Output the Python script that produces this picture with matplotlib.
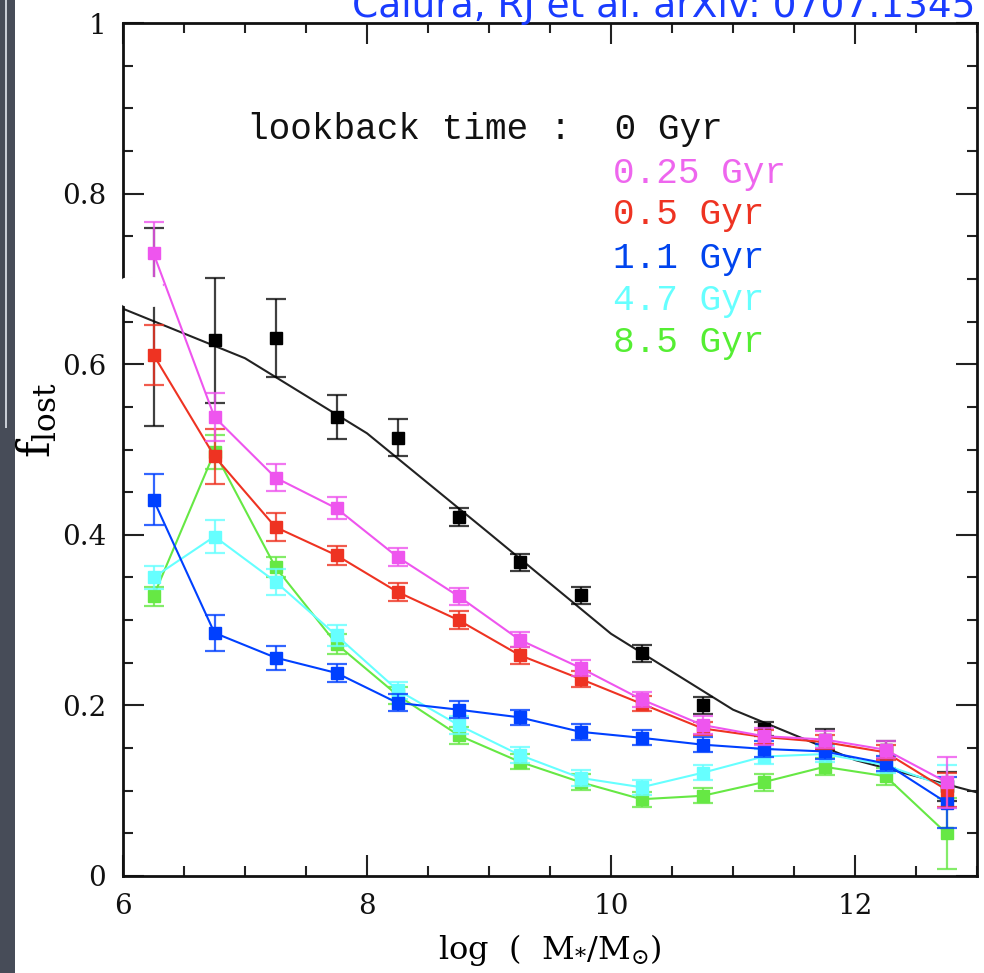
import matplotlib
matplotlib.use('Agg')
import matplotlib.pyplot as plt
from matplotlib.colors import to_rgba
from matplotlib.patches import Rectangle, FancyBboxPatch
from matplotlib.ticker import MultipleLocator, FixedLocator, FixedFormatter

plt.rcParams['mathtext.fontset'] = 'dejavuserif'

# stellar mass bins, log(M*/Msun)
log_mass = [6.25, 6.75, 7.25, 7.75, 8.25, 8.75, 9.25, 9.75,
            10.25, 10.75, 11.25, 11.75, 12.25, 12.75]

# model curve at lookback time 0
model_mass = [6, 7, 8, 9, 10, 11, 12, 13]
model_flost = [0.665, 0.607, 0.519, 0.402, 0.284, 0.195, 0.136, 0.098]

# lookback time 0 Gyr (points only)
f_0 = [0.69, 0.628, 0.631, 0.538, 0.514, 0.421, 0.368, 0.329,
       0.261, 0.200, 0.172, 0.160, 0.148, 0.105]
err_0_lo = [0.162, 0.073, 0.046, 0.026, 0.022, 0.011, 0.010, 0.010,
            0.010, 0.010, 0.008, 0.012, 0.010, 0.017]
err_0_hi = [0.070, 0.073, 0.046, 0.026, 0.022, 0.011, 0.010, 0.010,
            0.010, 0.010, 0.008, 0.012, 0.010, 0.017]

f_025 = [0.730, 0.538, 0.467, 0.431, 0.374, 0.328, 0.277, 0.244,
         0.207, 0.177, 0.164, 0.160, 0.148, 0.110]
err_025 = [0.037, 0.028, 0.016, 0.013, 0.011, 0.010, 0.009, 0.009,
           0.009, 0.010, 0.010, 0.010, 0.010, 0.030]

f_05 = [0.611, 0.492, 0.409, 0.376, 0.333, 0.300, 0.259, 0.231,
        0.202, 0.173, 0.163, 0.157, 0.145, 0.101]
err_05 = [0.035, 0.032, 0.016, 0.011, 0.011, 0.011, 0.010, 0.009,
          0.009, 0.008, 0.008, 0.008, 0.009, 0.020]

f_11 = [0.441, 0.285, 0.256, 0.238, 0.203, 0.195, 0.186, 0.169,
        0.162, 0.154, 0.149, 0.146, 0.132, 0.086]
err_11 = [0.030, 0.021, 0.014, 0.011, 0.010, 0.010, 0.009, 0.009,
          0.009, 0.009, 0.009, 0.009, 0.009, 0.030]

f_47 = [0.350, 0.398, 0.345, 0.282, 0.218, 0.177, 0.142, 0.115,
        0.104, 0.121, 0.140, 0.143, 0.130, 0.105]
err_47 = [0.013, 0.019, 0.015, 0.012, 0.010, 0.010, 0.009, 0.009,
          0.009, 0.009, 0.009, 0.009, 0.009, 0.025]

f_85 = [0.328, 0.497, 0.362, 0.272, 0.212, 0.165, 0.134, 0.110,
        0.090, 0.094, 0.110, 0.128, 0.117, 0.050]
err_85 = [0.011, 0.020, 0.012, 0.012, 0.010, 0.010, 0.009, 0.009,
          0.009, 0.009, 0.010, 0.010, 0.010, 0.042]

time_labels = ['0 Gyr', '0.25 Gyr', '0.5 Gyr', '1.1 Gyr', '4.7 Gyr', '8.5 Gyr']
y_ticklabels = ['0', '0.2', '0.4', '0.6', '0.8', '1']

c_mag = '#ee55ee'
c_red = '#ee3322'
c_blue = '#0040ff'
c_cyan = '#66ffff'
c_green = '#66e844'

fig = plt.figure(figsize=(9.84, 9.73), dpi=100)
fig.patch.set_facecolor('white')

# dark slide edge on the left
fig.add_artist(Rectangle((0, 0), 15 / 984, 1, transform=fig.transFigure,
                         facecolor='#474c58', edgecolor='none', zorder=0))
fig.add_artist(Rectangle((5 / 984, 1 - 428 / 973), 1.5 / 984, 428 / 973,
                         transform=fig.transFigure, facecolor='#c8ccd4',
                         edgecolor='none', zorder=0))

ax = fig.add_axes([123 / 984, 97 / 973, 854 / 984, 853 / 973])

ax.plot(model_mass, model_flost, color='#222222', lw=1.5, zorder=2)

ax.errorbar(log_mass, f_0, yerr=[err_0_lo, err_0_hi], fmt='s', color='black',
            ms=8, ecolor=to_rgba('black', 0.75), elinewidth=1.6,
            capsize=7, capthick=1.6, zorder=3)


def series(vals, errs, col, z):
    ax.errorbar(log_mass, vals, yerr=errs, fmt='s-', color=col, ms=8, lw=1.5,
                ecolor=to_rgba(col, 0.8), elinewidth=1.6, capsize=7,
                capthick=1.6, zorder=z)


series(f_85, err_85, c_green, 4)
series(f_47, err_47, c_cyan, 5)
series(f_11, err_11, c_blue, 6)
series(f_05, err_05, c_red, 7)
series(f_025, err_025, c_mag, 8)

ax.set_xlim(6, 13)
ax.set_ylim(0, 1)
ax.xaxis.set_major_locator(MultipleLocator(2))
ax.xaxis.set_minor_locator(MultipleLocator(0.5))
ax.yaxis.set_major_locator(FixedLocator([0, 0.2, 0.4, 0.6, 0.8, 1.0]))
ax.yaxis.set_major_formatter(FixedFormatter(y_ticklabels))
ax.yaxis.set_minor_locator(MultipleLocator(0.05))
ax.tick_params(which='both', direction='in', top=True, right=True,
               width=1.5, colors='#222222')
ax.tick_params(which='major', length=15)
ax.tick_params(which='minor', length=7)
ax.tick_params(axis='x', which='major', pad=12, labelsize=20)
ax.tick_params(axis='y', which='major', pad=12, labelsize=20)
for lab in ax.get_xticklabels() + ax.get_yticklabels():
    lab.set_family('DejaVu Serif')
    lab.set_color('#111111')
for sp in ax.spines.values():
    sp.set_linewidth(2)
    sp.set_color('#111111')

ax.set_xlabel(r'log  (  M$_{*}$/M$_{\odot}$)', fontsize=23,
              family='DejaVu Serif', labelpad=9)

fig.text(37 / 984, 1 - 420 / 973, r'$\mathrm{f}_{\mathrm{lost}}$',
         fontsize=32, rotation=90, ha='center', va='center')

# lookback time key
ax.text(7.016, 0.875, 'lookback time :  ' + time_labels[0], fontsize=26,
        family='Liberation Mono', color='#111111', ha='left', va='center')
key_y = [0.824, 0.775, 0.724, 0.675, 0.626]
key_c = ['#ee66ee', c_red, '#0044ee', c_cyan, '#55ee33']
for lab, yy, col in zip(time_labels[1:], key_y, key_c):
    ax.text(10.016, yy, lab, fontsize=26, family='Liberation Mono',
            color=col, ha='left', va='center')

# white slide overlay crossing the left axis
fig.add_artist(FancyBboxPatch((121 / 984, 1 - 305 / 973), 40 / 984, 26 / 973,
                              boxstyle='round,pad=0.002,rounding_size=0.01',
                              transform=fig.transFigure, facecolor='white',
                              edgecolor='none', zorder=20))

fig.text(975 / 984, 1 - 17 / 973, 'Calura, RJ et al. arXiv: 0707.1345',
         fontsize=27, color='#1a3cff', ha='right', va='baseline')

fig.savefig('out.png', dpi=100)
